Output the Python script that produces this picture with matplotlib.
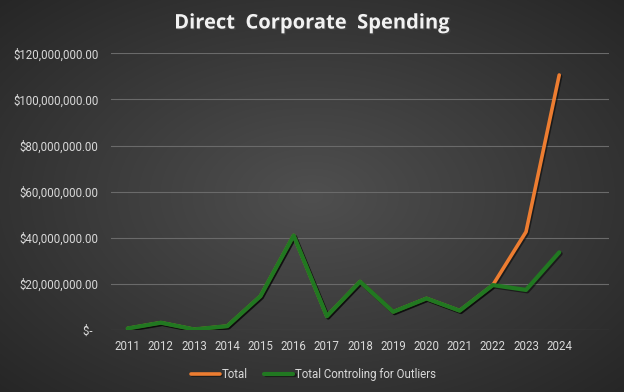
import numpy as np
import matplotlib
matplotlib.use('Agg')
from matplotlib import pyplot as plt
from matplotlib import patheffects as pe
from matplotlib.ticker import FuncFormatter

years = ['2011', '2012', '2013', '2014', '2015', '2016', '2017', '2018', '2019',
         '2020', '2021', '2022', '2023', '2024']
total = [0.7, 3.2, 0.3, 1.7, 14.7, 41.0, 6.0, 21.0, 7.9, 13.7, 8.4, 19.5, 42.6, 110.6]
controlled = [0.7, 3.2, 0.3, 1.7, 14.7, 41.0, 6.0, 21.0, 7.9, 13.7, 8.4, 19.5, 17.4, 33.7]
yticks = [0, 20, 40, 60, 80, 100, 120]

plt.rcParams['font.family'] = ['Roboto', 'DejaVu Sans']

fig = plt.figure(figsize=(6.24, 3.92), dpi=100)

# radial gradient background
bg = fig.add_axes([0, 0, 1, 1], zorder=-5)
xx, yy = np.meshgrid(np.linspace(-1, 1, 624), np.linspace(-1, 1, 392))
r = np.sqrt(xx ** 2 + yy ** 2) / np.sqrt(2)
shade = 0.31 - 0.16 * r
bg.imshow(np.dstack([shade, shade, shade]), aspect='auto', extent=[0, 1, 0, 1])
bg.axis('off')

ax = fig.add_axes([0.178, 0.158, 0.798, 0.706])
ax.set_facecolor('none')
x = np.arange(len(years))
shadow = [pe.SimpleLineShadow(offset=(1, -1), shadow_color='black', alpha=0.5), pe.Normal()]
ax.plot(x, np.array(total) * 1e6, color='#ED7D31', lw=2.6, label='Total',
        solid_capstyle='round', path_effects=shadow, zorder=3)
ax.plot(x, np.array(controlled) * 1e6, color='#217821', lw=3.0,
        label='Total Controling for Outliers', solid_capstyle='round',
        path_effects=shadow, zorder=4)

ax.set_xlim(-0.5, 14.5)
ax.set_ylim(0, 120e6)
ax.set_xticks(x)
ax.set_xticklabels(years)
ax.set_yticks([v * 1e6 for v in yticks])


def money(v, pos):
    if v == 0:
        return '$-  '
    return '${:,.2f}'.format(v)


ax.yaxis.set_major_formatter(FuncFormatter(money))
ax.tick_params(colors='#d9d9d9', labelsize=8.3, length=0)
ax.tick_params(axis='y', pad=9)
ax.tick_params(axis='x', pad=7)
ax.grid(axis='y', color='#6a6a6a', lw=0.8)
for s in ax.spines.values():
    s.set_visible(False)

fig.text(0.5, 0.94, 'Direct  Corporate  Spending', ha='center', va='center',
         color='#f2f2f2', fontsize=14.5, fontweight='bold', family=['Open Sans', 'DejaVu Sans'],
         path_effects=[pe.withSimplePatchShadow(offset=(1, -1), alpha=0.6)])

leg = ax.legend(loc='center', bbox_to_anchor=(0.407, -0.159), ncol=2, frameon=False,
                fontsize=8.3, handlelength=2.5, columnspacing=1.4, handletextpad=0.2)
for t in leg.get_texts():
    t.set_color('#d9d9d9')

fig.savefig('out.png', dpi=100)
